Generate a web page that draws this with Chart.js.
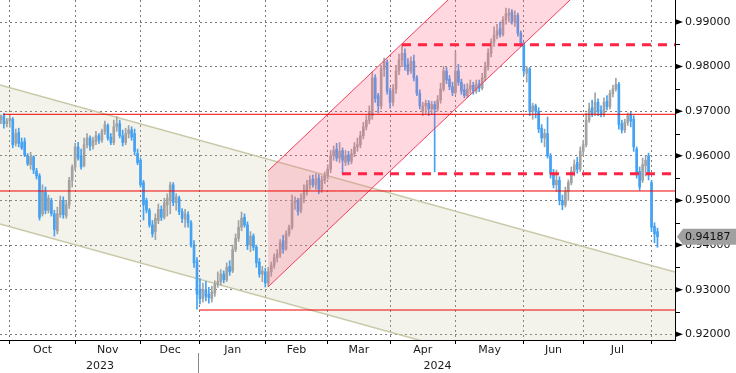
<!DOCTYPE html>
<html>
<head>
<meta charset="utf-8">
<script src="https://cdn.jsdelivr.net/npm/chart.js@4/dist/chart.umd.min.js"></script>
<style>
  html, body { margin: 0; padding: 0; background: #fff; }
  canvas { display: block; }
</style>
</head>
<body>
<canvas id="chart" width="736" height="373"></canvas>
<script>
// daily bars, index 0 = 27 Sep 2023 ... 221 = 5 Aug 2024
const opens = [
  0.9680,0.9690,0.9672,0.9678,0.9682,0.9628,0.9652,0.9630,0.9632,0.9600,
  0.9580,0.9598,0.9566,0.9555,0.9470,0.9518,0.9478,0.9500,0.9470,0.9432,
  0.9468,0.9500,0.9465,0.9490,0.9545,0.9575,0.9620,0.9600,0.9578,0.9625,
  0.9640,0.9622,0.9632,0.9645,0.9635,0.9655,0.9668,0.9642,0.9630,0.9665,
  0.9672,0.9645,0.9630,0.9650,0.9658,0.9650,0.9605,0.9590,0.9540,0.9500,
  0.9478,0.9445,0.9430,0.9455,0.9480,0.9462,0.9490,0.9500,0.9535,0.9495,
  0.9505,0.9475,0.9458,0.9468,0.9450,0.9400,0.9365,0.9300,0.9280,0.9300,
  0.9290,0.9280,0.9292,0.9312,0.9318,0.9335,0.9322,0.9352,0.9342,0.9390,
  0.9415,0.9440,0.9462,0.9445,0.9400,0.9420,0.9395,0.9362,0.9335,0.9340,
  0.9315,0.9340,0.9355,0.9372,0.9380,0.9410,0.9392,0.9425,0.9440,0.9495,
  0.9500,0.9478,0.9505,0.9520,0.9535,0.9548,0.9535,0.9550,0.9525,0.9545,
  0.9555,0.9570,0.9600,0.9615,0.9595,0.9612,0.9585,0.9602,0.9588,0.9605,
  0.9620,0.9625,0.9645,0.9665,0.9680,0.9690,0.9775,0.9735,0.9712,0.9795,
  0.9810,0.9745,0.9720,0.9750,0.9790,0.9815,0.9830,0.9805,0.9790,0.9812,
  0.9775,0.9740,0.9700,0.9712,0.9718,0.9705,0.9715,0.9705,0.9725,0.9750,
  0.9790,0.9772,0.9755,0.9742,0.9790,0.9765,0.9748,0.9735,0.9750,0.9758,
  0.9745,0.9762,0.9752,0.9775,0.9800,0.9830,0.9855,0.9870,0.9885,0.9872,
  0.9905,0.9915,0.9922,0.9900,0.9915,0.9875,0.9852,0.9785,0.9795,0.9700,
  0.9712,0.9700,0.9662,0.9640,0.9650,0.9600,0.9560,0.9535,0.9545,0.9500,
  0.9490,0.9520,0.9540,0.9565,0.9585,0.9570,0.9610,0.9625,0.9680,0.9708,
  0.9695,0.9720,0.9702,0.9692,0.9722,0.9710,0.9740,0.9750,0.9760,0.9672,
  0.9658,0.9675,0.9692,0.9682,0.9615,0.9565,0.9545,0.9578,0.9600,0.9540,
  0.9442,0.9430
];
const highs = [
  0.9692,0.9695,0.9684,0.9693,0.9686,0.9660,0.9662,0.9640,0.9640,0.9605,
  0.9608,0.9600,0.9572,0.9560,0.9535,0.9530,0.9512,0.9505,0.9478,0.9485,
  0.9510,0.9508,0.9498,0.9552,0.9580,0.9628,0.9630,0.9615,0.9640,0.9650,
  0.9645,0.9642,0.9655,0.9650,0.9660,0.9678,0.9672,0.9650,0.9680,0.9688,
  0.9680,0.9658,0.9662,0.9668,0.9665,0.9660,0.9615,0.9595,0.9545,0.9505,
  0.9482,0.9455,0.9470,0.9492,0.9488,0.9505,0.9515,0.9541,0.9540,0.9515,
  0.9510,0.9482,0.9480,0.9475,0.9455,0.9410,0.9372,0.9325,0.9315,0.9318,
  0.9305,0.9308,0.9320,0.9340,0.9345,0.9342,0.9360,0.9365,0.9400,0.9425,
  0.9455,0.9474,0.9470,0.9452,0.9430,0.9425,0.9400,0.9370,0.9352,0.9348,
  0.9350,0.9362,0.9380,0.9390,0.9412,0.9422,0.9432,0.9445,0.9512,0.9508,
  0.9505,0.9515,0.9535,0.9545,0.9555,0.9557,0.9560,0.9558,0.9555,0.9564,
  0.9580,0.9612,0.9622,0.9628,0.9630,0.9618,0.9612,0.9610,0.9615,0.9630,
  0.9640,0.9655,0.9675,0.9690,0.9712,0.9788,0.9782,0.9740,0.9803,0.9819,
  0.9815,0.9752,0.9760,0.9803,0.9828,0.9849,0.9840,0.9818,0.9822,0.9826,
  0.9780,0.9748,0.9720,0.9725,0.9724,0.9722,0.9722,0.9735,0.9763,0.9800,
  0.9798,0.9780,0.9765,0.9833,0.9805,0.9772,0.9760,0.9762,0.9770,0.9765,
  0.9770,0.9770,0.9785,0.9810,0.9840,0.9862,0.9889,0.9895,0.9900,0.9912,
  0.9931,0.9930,0.9928,0.9925,0.9920,0.9880,0.9855,0.9800,0.9798,0.9718,
  0.9716,0.9708,0.9670,0.9660,0.9687,0.9605,0.9570,0.9568,0.9553,0.9512,
  0.9530,0.9546,0.9575,0.9591,0.9597,0.9620,0.9635,0.9696,0.9718,0.9725,
  0.9741,0.9728,0.9712,0.9730,0.9735,0.9747,0.9758,0.9774,0.9765,0.9680,
  0.9682,0.9696,0.9698,0.9690,0.9620,0.9575,0.9595,0.9600,0.9606,0.9545,
  0.9450,0.9438
];
const lows = [
  0.9672,0.9662,0.9665,0.9664,0.9618,0.9622,0.9620,0.9614,0.9598,0.9578,
  0.9570,0.9560,0.9548,0.9456,0.9465,0.9470,0.9472,0.9465,0.9420,0.9425,
  0.9462,0.9460,0.9460,0.9482,0.9530,0.9568,0.9590,0.9570,0.9575,0.9618,
  0.9612,0.9615,0.9625,0.9628,0.9630,0.9648,0.9635,0.9625,0.9625,0.9655,
  0.9640,0.9622,0.9625,0.9640,0.9635,0.9602,0.9580,0.9530,0.9456,0.9472,
  0.9440,0.9418,0.9412,0.9448,0.9455,0.9458,0.9465,0.9470,0.9488,0.9478,
  0.9468,0.9450,0.9440,0.9440,0.9395,0.9350,0.9256,0.9268,0.9272,0.9275,
  0.9270,0.9272,0.9285,0.9305,0.9310,0.9315,0.9318,0.9332,0.9338,0.9385,
  0.9408,0.9432,0.9440,0.9390,0.9385,0.9388,0.9350,0.9328,0.9318,0.9306,
  0.9308,0.9330,0.9348,0.9362,0.9372,0.9382,0.9388,0.9420,0.9435,0.9480,
  0.9467,0.9472,0.9495,0.9512,0.9525,0.9530,0.9525,0.9515,0.9518,0.9538,
  0.9548,0.9562,0.9590,0.9588,0.9585,0.9561,0.9578,0.9580,0.9582,0.9598,
  0.9610,0.9618,0.9638,0.9658,0.9672,0.9682,0.9720,0.9696,0.9705,0.9778,
  0.9738,0.9707,0.9712,0.9740,0.9782,0.9800,0.9792,0.9782,0.9785,0.9768,
  0.9735,0.9705,0.9690,0.9695,0.9690,0.9692,0.9564,0.9700,0.9718,0.9745,
  0.9762,0.9748,0.9735,0.9738,0.9758,0.9738,0.9730,0.9730,0.9740,0.9738,
  0.9740,0.9744,0.9748,0.9768,0.9792,0.9822,0.9845,0.9862,0.9866,0.9868,
  0.9895,0.9900,0.9895,0.9890,0.9868,0.9845,0.9780,0.9765,0.9690,0.9682,
  0.9685,0.9652,0.9630,0.9620,0.9595,0.9550,0.9528,0.9520,0.9490,0.9479,
  0.9485,0.9500,0.9535,0.9555,0.9561,0.9565,0.9600,0.9620,0.9675,0.9688,
  0.9690,0.9690,0.9687,0.9688,0.9703,0.9705,0.9732,0.9745,0.9660,0.9651,
  0.9652,0.9668,0.9665,0.9610,0.9550,0.9523,0.9540,0.9555,0.9546,0.9430,
  0.9405,0.9395
];
const closes = [
  0.9688,0.9672,0.9678,0.9684,0.9625,0.9650,0.9628,0.9618,0.9602,0.9582,
  0.9598,0.9568,0.9555,0.9462,0.9520,0.9478,0.9505,0.9470,0.9435,0.9470,
  0.9500,0.9468,0.9490,0.9545,0.9575,0.9620,0.9595,0.9575,0.9625,0.9640,
  0.9622,0.9635,0.9645,0.9635,0.9655,0.9670,0.9640,0.9630,0.9665,0.9672,
  0.9645,0.9630,0.9650,0.9658,0.9642,0.9610,0.9585,0.9535,0.9490,0.9478,
  0.9445,0.9425,0.9460,0.9480,0.9462,0.9495,0.9505,0.9535,0.9495,0.9508,
  0.9475,0.9460,0.9470,0.9450,0.9400,0.9360,0.9290,0.9280,0.9300,0.9285,
  0.9282,0.9295,0.9312,0.9318,0.9335,0.9322,0.9350,0.9340,0.9390,0.9415,
  0.9440,0.9460,0.9445,0.9400,0.9420,0.9395,0.9360,0.9335,0.9342,0.9315,
  0.9340,0.9355,0.9372,0.9380,0.9405,0.9390,0.9425,0.9440,0.9495,0.9500,
  0.9475,0.9505,0.9520,0.9535,0.9545,0.9535,0.9548,0.9525,0.9545,0.9555,
  0.9570,0.9600,0.9612,0.9595,0.9610,0.9590,0.9600,0.9588,0.9605,0.9620,
  0.9625,0.9645,0.9665,0.9680,0.9700,0.9775,0.9728,0.9712,0.9795,0.9812,
  0.9745,0.9720,0.9750,0.9790,0.9815,0.9830,0.9800,0.9790,0.9812,0.9775,
  0.9740,0.9712,0.9712,0.9718,0.9705,0.9715,0.9705,0.9725,0.9750,0.9790,
  0.9770,0.9755,0.9742,0.9790,0.9765,0.9745,0.9735,0.9750,0.9758,0.9745,
  0.9760,0.9752,0.9775,0.9800,0.9830,0.9855,0.9870,0.9880,0.9872,0.9905,
  0.9918,0.9920,0.9902,0.9915,0.9875,0.9850,0.9790,0.9795,0.9700,0.9712,
  0.9700,0.9660,0.9640,0.9650,0.9600,0.9560,0.9535,0.9545,0.9500,0.9490,
  0.9520,0.9540,0.9565,0.9580,0.9570,0.9610,0.9625,0.9680,0.9705,0.9695,
  0.9720,0.9700,0.9692,0.9720,0.9710,0.9740,0.9750,0.9760,0.9670,0.9658,
  0.9675,0.9690,0.9678,0.9620,0.9560,0.9530,0.9580,0.9590,0.9560,0.9440,
  0.9425,0.94187
];

// axis labels (bar index of first trading day of each month)
const monthStarts = [3, 25, 47, 67, 89, 110, 131, 153, 176, 196, 219];
const monthNames = ['Oct', 'Nov', 'Dec', 'Jan', 'Feb', 'Mar', 'Apr', 'May', 'Jun', 'Jul'];
const yearNames = ['2023', '2024'];
const yearStart = 67;
const priceTicks = [0.92, 0.93, 0.94, 0.95, 0.96, 0.97, 0.98, 0.99];
const minorTicks = [0.925, 0.935, 0.945, 0.955, 0.965, 0.975, 0.985];

// drawn objects (bar index, price)
const xFrom = -0.3, xTo = 226.9;
const beigeTop = [0.97588, 0.93396];
const beigeBottom = [0.94472, 0.90280];
const pinkFrom = 89.9;
const pinkTop = [0.95660, 1.04328];
const pinkBottom = [0.93060, 1.01728];
const solidLevels = [0.96931, 0.95212, 0.92544];
const solidFrom = [0.8, -0.3, 66.8];
const dashedLevels = [0.98491, 0.95600];
const dashedFrom = [135, 114.8];

const BLUE = '#45a1f2';
const GRAY = '#a2a2a2';
const FONT = '"DejaVu Sans", sans-serif';

Chart.defaults.font.family = FONT;
Chart.defaults.font.size = 11;

const colors = opens.map((o, i) => closes[i] < o ? BLUE : GRAY);
const seg = (x0, x1, y0, y1) => [{x: x0, y: y0}, {x: x1, y: y1}];
const lineDs = (data, color, width, order, extra) => Object.assign({
  type: 'line', data, borderColor: color, borderWidth: width, pointRadius: 0,
  tension: 0, fill: false, order
}, extra || {});

const datasets = [
  lineDs(seg(xFrom, xTo, beigeTop[0], beigeTop[1]), '#c9c9a8', 1.5, 10),
  lineDs(seg(xFrom, xTo, beigeBottom[0], beigeBottom[1]), '#c9c9a8', 1.5, 11,
    {fill: {target: 0}, backgroundColor: 'rgba(196,196,160,0.2)'}),
  {
    type: 'bar', data: opens.map((_, i) => ({x: i, y: [lows[i], highs[i]]})),
    backgroundColor: colors, barThickness: 1, grouped: false, order: 8, minBarLength: 1
  },
  {
    type: 'bar', data: opens.map((o, i) => ({x: i, y: [o, closes[i]]})),
    backgroundColor: colors, barThickness: 2, grouped: false, order: 7, minBarLength: 1
  },
  lineDs(seg(pinkFrom, xTo, pinkTop[0], pinkTop[1]), '#f2405e', 1, 5),
  lineDs(seg(pinkFrom, xTo, pinkBottom[0], pinkBottom[1]), '#f2405e', 1, 6,
    {fill: {target: 4}, backgroundColor: 'rgba(255,100,130,0.25)'})
];
solidLevels.forEach((p, k) => datasets.push(lineDs(seg(solidFrom[k], xTo, p, p), '#f00000', 1, 3)));
dashedLevels.forEach((p, k) => datasets.push(lineDs(seg(dashedFrom[k], xTo, p, p), '#ff2444', 3, 2,
  {borderDash: [9, 7], borderCapStyle: 'butt'})));

const extras = {
  id: 'extras',
  afterDraw(chart) {
    const {ctx, chartArea: a, scales: {x, y}} = chart;
    ctx.save();
    ctx.fillStyle = '#000';
    ctx.strokeStyle = '#000';
    ctx.lineWidth = 1;
    priceTicks.forEach(v => {
      const py = y.getPixelForValue(v);
      ctx.beginPath();
      ctx.moveTo(a.right, py - 3);
      ctx.lineTo(a.right + 8, py);
      ctx.lineTo(a.right, py + 3);
      ctx.closePath();
      ctx.fill();
    });
    minorTicks.forEach(v => {
      const py = Math.round(y.getPixelForValue(v)) + 0.5;
      ctx.beginPath();
      ctx.moveTo(a.right, py);
      ctx.lineTo(a.right + 5, py);
      ctx.stroke();
    });

    ctx.font = '11px ' + FONT;
    ctx.fillStyle = '#1a1a1a';
    ctx.textAlign = 'center';
    ctx.textBaseline = 'middle';
    monthNames.forEach((m, k) => {
      const cx = (x.getPixelForValue(monthStarts[k]) + x.getPixelForValue(monthStarts[k + 1])) / 2;
      ctx.fillText(m, cx, a.bottom + 10);
    });
    const sep = x.getPixelForValue(yearStart);
    ctx.fillText(yearNames[0], (a.left + sep) / 2, a.bottom + 26);
    ctx.fillText(yearNames[1], (sep + a.right) / 2, a.bottom + 26);
    ctx.strokeStyle = '#8a8a8a';
    ctx.beginPath();
    ctx.moveTo(Math.floor(sep) - 0.5, a.bottom + 13);
    ctx.lineTo(Math.floor(sep) - 0.5, chart.height);
    ctx.stroke();

    // last price tag
    const last = closes[closes.length - 1];
    const py = y.getPixelForValue(last);
    ctx.fillStyle = '#a0a0a0';
    ctx.beginPath();
    ctx.moveTo(a.right + 2, py);
    ctx.lineTo(a.right + 8, py - 8);
    ctx.lineTo(chart.width, py - 8);
    ctx.lineTo(chart.width, py + 8);
    ctx.lineTo(a.right + 8, py + 8);
    ctx.closePath();
    ctx.fill();
    ctx.fillStyle = '#111';
    ctx.textAlign = 'left';
    ctx.fillText(last.toFixed(5), a.right + 10, py + 0.5);
    ctx.restore();
  }
};

new Chart(document.getElementById('chart'), {
  type: 'bar',
  data: {datasets},
  options: {
    responsive: false,
    devicePixelRatio: 1,
    animation: false,
    events: [],
    layout: {padding: 0},
    plugins: {legend: {display: false}, tooltip: {enabled: false}},
    scales: {
      x: {
        type: 'linear', min: xFrom, max: xTo, offset: false,
        afterBuildTicks: s => { s.ticks = monthStarts.map(v => ({value: v})); },
        afterFit: s => { s.height = 33; s.paddingLeft = 0; s.paddingRight = 0; },
        grid: {color: '#7a7a7a', offset: false, drawTicks: true, tickLength: 4, tickColor: '#000', tickWidth: 1},
        border: {color: '#000', width: 1, dash: [2, 3]},
        ticks: {display: false}
      },
      y: {
        position: 'right', min: 0.918716, max: 0.994932,
        afterBuildTicks: s => { s.ticks = priceTicks.map(v => ({value: v})); },
        afterFit: s => { s.width = 61; s.paddingTop = 0; s.paddingBottom = 0; },
        grid: {color: '#7a7a7a', drawTicks: false},
        border: {color: '#000', width: 1, dash: [2, 3]},
        ticks: {padding: 10, color: '#111', autoSkip: false, font: {size: 11},
          callback: v => Number(v).toFixed(5)}
      }
    }
  },
  plugins: [extras]
});
</script>
</body>
</html>
